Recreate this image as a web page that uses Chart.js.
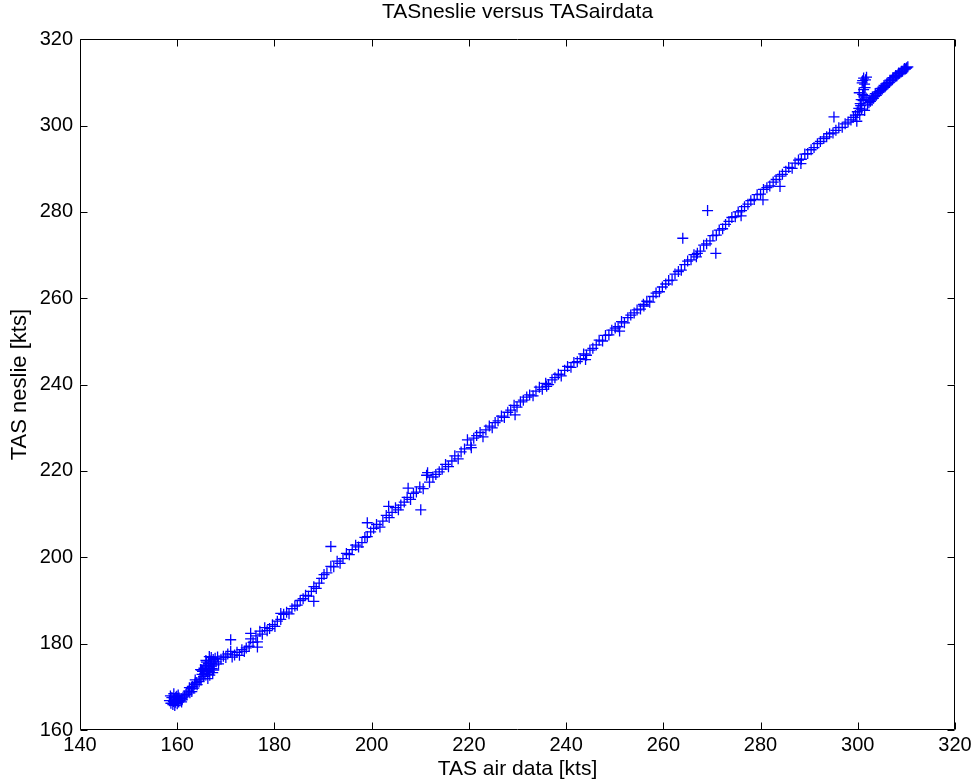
<!DOCTYPE html>
<html>
<head>
<meta charset="utf-8">
<title>TASneslie versus TASairdata</title>
<script src="https://cdn.jsdelivr.net/npm/chart.js@4/dist/chart.umd.min.js"></script>
<style>
    html, body { margin: 0; padding: 0; background: #ffffff; }
</style>
</head>
<body>
<canvas id="tasCanvas" width="972" height="784"></canvas>
<script>
// [TAS air data, TAS neslie] pairs
let lowCluster = [
    [158.4,166.8],[158.7,166.2],[158.9,167.5],[159.1,165.9],[159.2,166.6],[159.4,167.2],[159.5,165.7],
    [159.6,166.4],[159.8,166.9],[159.9,167.8],[160.0,166.1],[160.1,167.0],[160.3,166.5],[160.4,167.4],
    [160.6,166.8],[160.8,167.3],[161.0,167.0],[161.2,167.6],[161.5,167.9],[161.8,168.3],[158.6,167.9],
    [159.3,168.4],[159.7,167.6],[160.2,168.1],[160.9,166.5],
    [162.0,168.2],[162.3,169.0],[162.6,168.6],[162.9,169.6],[163.1,170.1],[163.4,169.7],[163.6,170.6],
    [163.9,171.0],[164.1,170.5],[162.5,169.8],[163.0,168.9],[163.7,171.6]
];
let secondCluster = [
    [164.5,171.2],[164.7,172.0],[164.9,171.6],[165.1,172.9],[165.2,173.6],[165.4,172.4],[165.5,174.3],
    [165.7,173.1],[165.8,175.0],[166.0,173.8],[166.1,174.6],[166.2,172.9],[166.4,175.4],[166.5,174.1],
    [166.6,173.5],[166.8,176.0],[166.9,174.8],[167.1,175.5],[167.2,174.2],[167.4,176.3],[167.6,175.1],
    [167.8,176.6],[168.0,175.8],[168.3,176.9],[165.0,173.9],[165.9,176.1],[166.3,171.9],[166.7,172.7],
    [167.0,176.8],[167.5,173.9],[168.5,175.3],[164.8,174.0],[166.0,175.7],[166.6,177.0],[167.3,173.3]
];
let segment170to190 = [
    [169.0,176.4],[169.5,177.1],[170.0,176.8],[170.4,177.6],[171.0,178.2],[171.3,176.9],[171.8,177.4],
    [172.3,178.0],[172.8,177.3],[173.3,178.6],[173.8,178.2],[174.2,179.0],[174.8,179.4],[175.1,181.1],
    [175.6,180.3],[176.2,181.8],[176.5,180.4],[177.0,182.9],[177.5,182.2],[178.0,183.7],[178.5,183.0],
    [179.0,183.5],[179.6,184.4],[180.1,184.0],[180.6,185.2],[181.3,185.6],[181.9,186.8],[182.5,187.3],
    [183.0,186.9],[183.6,188.1],[184.2,188.7],[184.7,188.9],[185.3,190.0],[185.9,190.4],[186.4,191.2],
    [187.0,191.0],[187.6,192.1],[188.1,193.2],[188.6,192.8],[189.2,194.0],[189.7,195.1],[171.0,180.9],
    [176.5,179.2],[175.1,182.4],[188.1,189.8],[181.3,187.0]
];
let segment190to225 = [
    [190.2,196.0],[190.8,196.4],[191.6,197.9],[192.2,197.8],[192.9,199.1],[193.5,198.6],[194.1,199.7],
    [194.8,200.9],[195.4,200.6],[196.0,201.8],[196.7,202.8],[197.3,202.4],[198.0,203.4],[198.6,204.6],
    [199.1,204.8],[199.8,205.9],[200.4,206.7],[201.0,207.6],[201.7,207.0],[202.3,208.4],[203.0,209.7],
    [203.6,209.2],[204.2,210.4],[204.9,211.5],[205.5,211.0],[206.0,212.1],[206.7,212.8],[207.3,213.9],
    [208.0,213.4],[208.6,214.8],[209.2,215.1],[209.9,216.3],[210.1,211.0],[210.6,215.9],[211.3,219.0],
    [211.9,217.4],[212.6,218.6],[213.2,219.2],[213.9,219.8],[214.5,220.4],[215.2,221.5],[215.8,221.0],
    [216.5,222.3],[217.1,223.5],[217.8,222.8],[218.4,224.4],[219.1,225.1],[219.7,227.2],[220.4,226.0],
    [221.0,227.6],[221.6,228.2],[222.3,228.9],[222.9,227.9],[223.5,229.5],[224.2,230.4],[224.8,230.0],
    [191.6,202.5],[199.1,208.0],[207.5,216.0],[211.5,219.6],[220.5,225.4],[203.5,211.8]
];
let segment225to260 = [
    [225.4,231.2],[226.0,231.6],[226.7,232.7],[227.3,232.4],[228.0,233.6],[228.6,234.1],[229.3,235.2],
    [229.9,234.8],[230.6,236.0],[231.2,236.4],[231.9,237.1],[232.5,237.6],[233.2,237.4],[233.8,238.5],
    [234.5,239.4],[235.1,238.9],[235.8,240.3],[236.4,240.0],[237.1,241.1],[237.7,241.6],[238.4,242.4],
    [239.0,242.0],[239.7,243.3],[240.3,244.2],[241.0,244.0],[241.6,245.1],[242.3,245.3],[242.9,246.0],
    [243.6,247.1],[244.2,246.8],[244.9,248.0],[245.5,248.4],[246.2,249.2],[246.8,250.3],[247.5,250.1],
    [248.1,251.4],[248.8,251.5],[249.4,252.6],[250.1,253.1],[250.7,253.4],[251.4,254.6],[252.0,254.3],
    [252.7,255.5],[253.3,256.1],[254.0,256.6],[254.6,257.3],[255.3,257.5],[255.9,258.6],[256.6,259.3],
    [257.2,259.1],[257.9,260.4],[258.5,261.2],[259.2,261.5],[259.8,262.6],[229.5,233.0],[236.0,239.6],
    [244.0,245.8],[251.0,252.4],[256.0,258.2]
];
let segment260to290 = [
    [260.5,263.3],[261.1,264.1],[261.8,264.2],[262.4,265.6],[263.1,266.2],[263.7,266.5],[264.4,267.8],
    [265.0,268.6],[265.7,268.9],[266.3,270.1],[267.0,270.4],[267.6,270.9],[268.3,272.3],[268.9,272.6],
    [269.6,273.3],[270.2,274.5],[270.9,274.6],[271.5,275.8],[272.2,276.1],[272.8,277.1],[273.5,277.8],
    [274.1,278.7],[274.8,278.9],[275.4,280.0],[276.1,280.3],[276.7,281.2],[277.4,281.8],[278.0,282.6],
    [278.7,282.9],[279.3,284.0],[280.0,284.1],[280.6,285.2],[281.3,285.6],[281.9,286.0],[282.6,286.9],
    [283.2,287.5],[283.9,288.3],[284.5,288.7],[285.2,289.4],[285.8,290.3],[286.5,290.1],[287.1,291.3],
    [287.8,292.0],[288.4,292.2],[289.1,293.4],[289.7,293.5],[264.0,273.9],[269.1,280.3],[270.8,270.4],
    [266.8,269.6],[276.0,279.1],[280.5,282.8],[284.0,285.9],[288.3,291.2]
];
let segment290to302 = [
    [290.4,294.4],[291.0,294.9],[291.7,295.8],[292.3,296.3],[293.0,297.0],[293.6,297.4],[294.2,298.1],
    [294.9,298.3],[295.5,298.9],[296.1,299.5],[296.8,299.6],[297.4,300.4],[298.0,300.8],[298.6,301.3],
    [299.1,301.9],[299.5,302.4],[299.9,303.2],[300.2,304.0],[300.5,305.1],[300.7,306.0],[301.0,307.2],
    [301.2,308.3],[301.4,309.6],[301.6,310.6],[301.8,311.2],[300.4,302.5],[300.8,303.8],[301.1,305.8],
    [301.3,306.9],[300.6,304.6],[301.5,308.8],[300.9,309.9],[301.2,311.0],[301.7,306.4],[295.1,302.0],
    [299.8,301.0],[300.3,307.6],[301.0,310.4],[301.4,303.5]
];
let highTail = [
    [302.0,304.8],[302.3,305.3],[302.6,305.6],[302.9,306.1],[303.2,306.3],[303.5,306.8],[303.8,307.0],
    [304.1,307.5],[304.4,307.8],[304.7,308.1],[305.0,308.4],[305.3,308.8],[305.6,309.0],[305.9,309.4],
    [306.2,309.7],[306.5,310.0],[306.8,310.4],[307.1,310.6],[307.4,311.0],[307.7,311.3],[308.0,311.5],
    [308.3,311.9],[308.6,312.1],[308.9,312.4],[309.2,312.6],[309.5,312.9],[309.8,313.1],[310.1,313.4],
    [310.3,313.6],[302.5,305.9],[303.0,306.6],[303.6,307.4],[304.2,307.8],[304.8,308.6],[305.4,309.3],
    [306.0,309.8],[306.6,310.5],[307.2,311.1],[307.8,311.6],[308.4,312.2],[309.0,312.6],[309.6,313.2],
    [310.0,313.3]
];

let xTickValues = [140, 160, 180, 200, 220, 240, 260, 280, 300, 320];
let yTickValues = [160, 180, 200, 220, 240, 260, 280, 300, 320];

let fontFamily = "'Liberation Sans', Arial, sans-serif";
let blue = 'rgb(0, 0, 255)';

// box round the axes with inward tick marks on all four sides, like matlab
let matlabBoxPlugin = {
    id: 'matlabBox',
    afterLayout: function(chart) {
        // matlab centres the title over the axes, not the whole figure
        let area = chart.chartArea;
        chart.titleBlock.left = area.left;
        chart.titleBlock.right = area.right;
        chart.titleBlock.width = area.right - area.left;
    },
    afterDraw: function(chart) {
        let ctx = chart.ctx;
        let area = chart.chartArea;
        let xScale = chart.scales.x;
        let yScale = chart.scales.y;
        let tickLen = 7;
        let left = Math.round(area.left) + 0.5;
        let right = Math.round(area.right) - 0.5;
        let top = Math.round(area.top) + 0.5;
        let bottom = Math.round(area.bottom) - 0.5;

        ctx.save();
        ctx.strokeStyle = '#000000';
        ctx.lineWidth = 1;
        ctx.beginPath();
        ctx.rect(left, top, right - left, bottom - top);
        for (let t of xScale.ticks) {
            let px = Math.round(xScale.getPixelForValue(t.value)) + 0.5;
            ctx.moveTo(px, bottom);
            ctx.lineTo(px, bottom - tickLen);
            ctx.moveTo(px, top);
            ctx.lineTo(px, top + tickLen);
        }
        for (let t of yScale.ticks) {
            let py = Math.round(yScale.getPixelForValue(t.value)) + 0.5;
            ctx.moveTo(left, py);
            ctx.lineTo(left + tickLen, py);
            ctx.moveTo(right, py);
            ctx.lineTo(right - tickLen, py);
        }
        ctx.stroke();
        ctx.restore();
    }
};

let toPoints = function(pairs) {
    return pairs.map(p => ({x: p[0], y: p[1]}));
};

let createTasChart = function() {
    let ctx = document.getElementById('tasCanvas');
    let allPairs = [].concat(lowCluster, secondCluster, segment170to190, segment190to225,
        segment225to260, segment260to290, segment290to302, highTail);

    let tickFont = {family: fontFamily, size: 20};
    let titleFont = {family: fontFamily, size: 21, weight: 'normal', lineHeight: 1.2};

    return new Chart(ctx, {
        type: 'scatter',
        data: {
            datasets: [{
                label: 'TAS neslie',
                data: toPoints(allPairs),
                pointStyle: 'cross',
                pointRadius: 5.5,
                pointHoverRadius: 5.5,
                pointBorderWidth: 1.3,
                borderColor: blue,
                backgroundColor: blue
            }]
        },
        options: {
            responsive: false,
            animation: false,
            events: [],
            layout: {
                padding: {left: 0, right: 17, top: 0, bottom: 0}
            },
            plugins: {
                legend: {display: false},
                tooltip: {enabled: false},
                title: {
                    display: true,
                    text: 'TASneslie versus TASairdata',
                    color: '#000000',
                    font: titleFont,
                    padding: {top: 0, bottom: 14}
                }
            },
            scales: {
                x: {
                    type: 'linear',
                    position: 'bottom',
                    min: 140,
                    max: 320,
                    afterBuildTicks: scale => { scale.ticks = xTickValues.map(v => ({value: v})); },
                    afterFit: scale => {
                        scale.height = 54;
                        scale.paddingLeft = 0;
                        scale.paddingRight = 0;
                    },
                    grid: {display: false, drawTicks: false},
                    border: {display: false},
                    ticks: {
                        color: '#000000',
                        font: tickFont,
                        padding: 3,
                        maxRotation: 0,
                        autoSkip: false
                    },
                    title: {
                        display: true,
                        text: 'TAS air data [kts]',
                        color: '#000000',
                        font: titleFont,
                        padding: {top: 0, bottom: 2}
                    }
                },
                y: {
                    type: 'linear',
                    position: 'left',
                    min: 160,
                    max: 320,
                    afterBuildTicks: scale => { scale.ticks = yTickValues.map(v => ({value: v})); },
                    afterFit: scale => {
                        scale.width = 80;
                        scale.paddingTop = 0;
                        scale.paddingBottom = 0;
                    },
                    grid: {display: false, drawTicks: false},
                    border: {display: false},
                    ticks: {
                        color: '#000000',
                        font: tickFont,
                        padding: 7,
                        autoSkip: false
                    },
                    title: {
                        display: true,
                        text: 'TAS neslie [kts]',
                        color: '#000000',
                        font: {family: fontFamily, size: 22, weight: 'normal', lineHeight: 1.2},
                        padding: {top: 7, bottom: 0}
                    }
                }
            }
        },
        plugins: [matlabBoxPlugin]
    });
};

let main = function() {
    createTasChart();
};

window.onload = main;
</script>
</body>
</html>
